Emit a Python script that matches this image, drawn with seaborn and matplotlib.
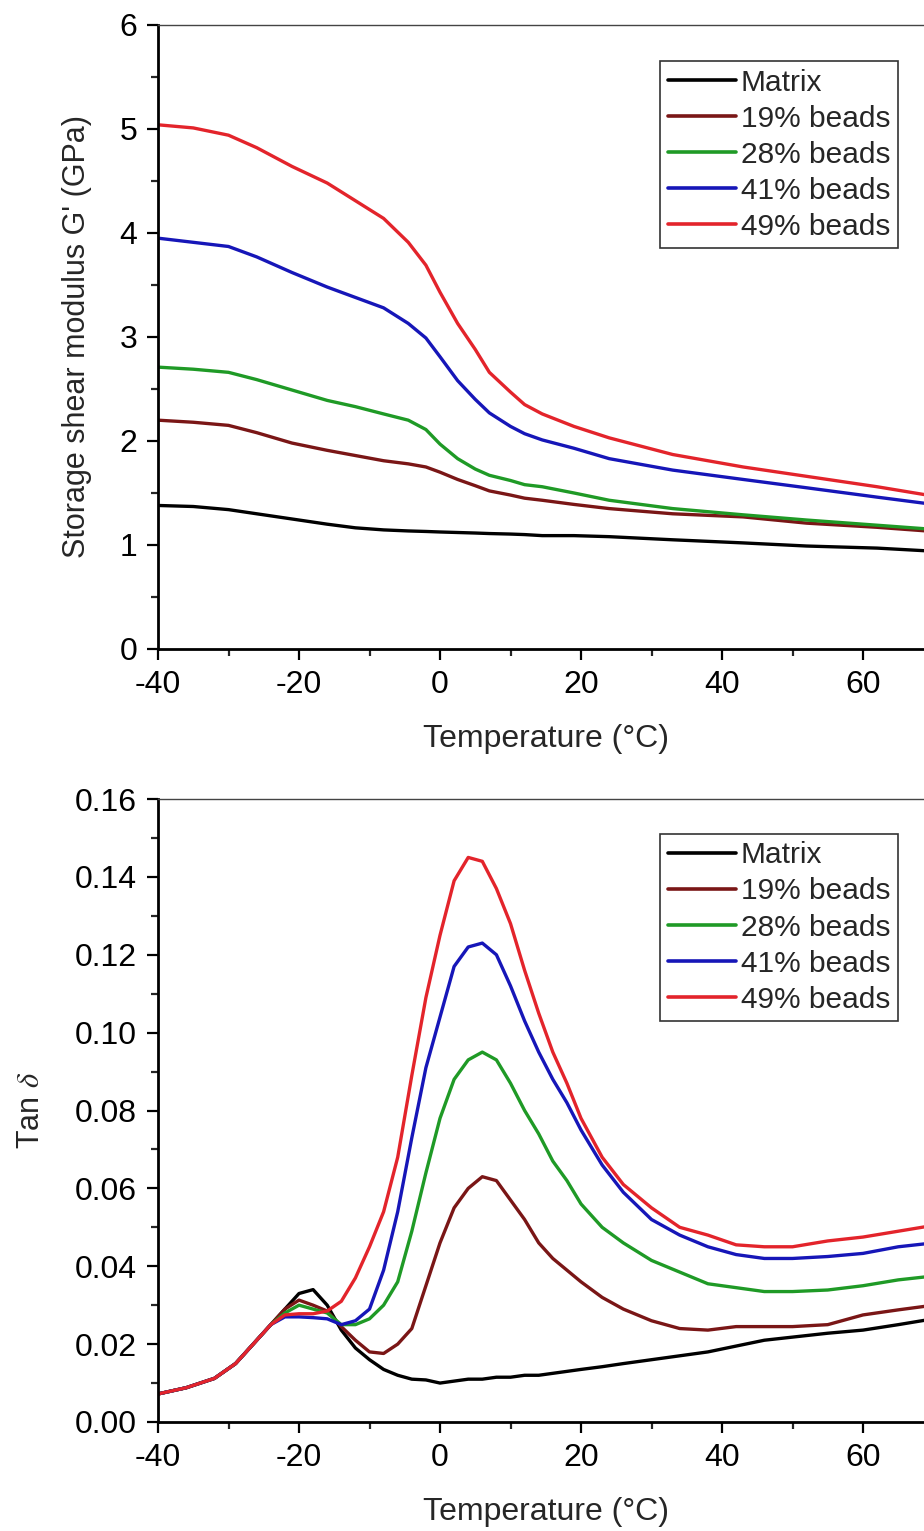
import matplotlib
matplotlib.use("Agg")
import matplotlib.pyplot as plt
from matplotlib.ticker import MultipleLocator, FormatStrFormatter
import seaborn as sns
import pandas as pd

sns.set_style("white")
plt.rcParams['font.family'] = ['Liberation Sans', 'DejaVu Sans']
plt.rcParams['mathtext.fontset'] = 'stix'
plt.rcParams['axes.unicode_minus'] = False

SERIES = ["Matrix", "19% beads", "28% beads", "41% beads", "49% beads"]
COLORS = ["#000000", "#7a1616", "#1f9a26", "#1616b8", "#e3242b"]

# storage shear modulus G' (GPa) vs temperature
T_MOD = [-40, -35, -30, -26, -21, -16, -12, -8, -4.5, -2, 0, 2.5, 5, 7, 10, 12, 14.5, 19, 24, 33, 43, 52, 62, 70]
G_MATRIX = [1.38, 1.37, 1.34, 1.30, 1.25, 1.20, 1.165, 1.145, 1.135, 1.13, 1.125, 1.12, 1.115, 1.11, 1.105, 1.10,
            1.09, 1.09, 1.08, 1.05, 1.02, 0.99, 0.97, 0.94]
G_19 = [2.20, 2.18, 2.15, 2.08, 1.98, 1.91, 1.86, 1.81, 1.78, 1.75, 1.70, 1.63, 1.57, 1.52, 1.48, 1.45,
        1.43, 1.39, 1.35, 1.30, 1.27, 1.21, 1.17, 1.13]
G_28 = [2.71, 2.69, 2.66, 2.59, 2.49, 2.39, 2.33, 2.26, 2.20, 2.11, 1.97, 1.83, 1.73, 1.67, 1.62, 1.58,
        1.56, 1.50, 1.43, 1.35, 1.29, 1.24, 1.19, 1.15]
G_41 = [3.95, 3.91, 3.87, 3.77, 3.62, 3.48, 3.38, 3.28, 3.13, 2.99, 2.81, 2.58, 2.40, 2.27, 2.14, 2.07,
        2.01, 1.93, 1.83, 1.72, 1.63, 1.55, 1.46, 1.39]
G_49 = [5.04, 5.01, 4.94, 4.82, 4.64, 4.48, 4.31, 4.14, 3.91, 3.69, 3.43, 3.13, 2.88, 2.66, 2.47, 2.35,
        2.26, 2.14, 2.03, 1.87, 1.75, 1.66, 1.56, 1.47]

# tan delta vs temperature
T_TAN = [-40, -36, -32, -29, -26, -24, -22, -20, -18, -16, -14, -12, -10, -8, -6, -4, -2, 0, 2, 4,
         6, 8, 10, 12, 14, 16, 18, 20, 23, 26, 30, 34, 38, 42, 46, 50, 55, 60, 65, 70]
TAN_MATRIX = [0.0072, 0.0088, 0.0112, 0.015, 0.021, 0.025, 0.029, 0.033, 0.034, 0.030,
              0.0236, 0.019, 0.016, 0.0135, 0.012, 0.011, 0.0108, 0.0100, 0.0105, 0.011,
              0.011, 0.0115, 0.0115, 0.012, 0.012, 0.0125, 0.013, 0.0135, 0.0142, 0.015,
              0.016, 0.017, 0.018, 0.0195, 0.021, 0.0218, 0.0228, 0.0236, 0.025, 0.0265]
TAN_19 = [0.0072, 0.0088, 0.0112, 0.015, 0.021, 0.025, 0.029, 0.0313, 0.030, 0.0285,
          0.0245, 0.021, 0.018, 0.0176, 0.020, 0.024, 0.035, 0.046, 0.055, 0.060,
          0.063, 0.062, 0.057, 0.052, 0.046, 0.042, 0.039, 0.036, 0.032, 0.029,
          0.026, 0.024, 0.0236, 0.0245, 0.0245, 0.0245, 0.025, 0.0275, 0.0288, 0.030]
TAN_28 = [0.0072, 0.0088, 0.0112, 0.015, 0.021, 0.025, 0.028, 0.030, 0.029, 0.028,
          0.025, 0.025, 0.0265, 0.030, 0.036, 0.049, 0.064, 0.078, 0.088, 0.093,
          0.095, 0.093, 0.087, 0.080, 0.074, 0.067, 0.062, 0.056, 0.050, 0.046,
          0.0415, 0.0385, 0.0355, 0.0345, 0.0335, 0.0335, 0.0339, 0.035, 0.0365, 0.0375]
TAN_41 = [0.0072, 0.0088, 0.0112, 0.015, 0.021, 0.025, 0.027, 0.027, 0.0268, 0.0265,
          0.025, 0.026, 0.029, 0.039, 0.054, 0.073, 0.091, 0.104, 0.117, 0.122,
          0.123, 0.120, 0.112, 0.103, 0.095, 0.088, 0.082, 0.075, 0.066, 0.059,
          0.052, 0.048, 0.045, 0.043, 0.042, 0.042, 0.0425, 0.0433, 0.045, 0.046]
TAN_49 = [0.0072, 0.0088, 0.0112, 0.015, 0.021, 0.025, 0.0275, 0.0278, 0.0278, 0.0285,
          0.031, 0.037, 0.045, 0.054, 0.068, 0.089, 0.109, 0.125, 0.139, 0.145,
          0.144, 0.137, 0.128, 0.116, 0.105, 0.095, 0.087, 0.078, 0.068, 0.061,
          0.055, 0.050, 0.048, 0.0455, 0.045, 0.045, 0.0465, 0.0475, 0.049, 0.0505]


def long_form(temps, columns, value):
    frames = [pd.DataFrame({"T": temps, value: vals, "sample": name}) for name, vals in zip(SERIES, columns)]
    return pd.concat(frames, ignore_index=True)


mod = long_form(T_MOD, [G_MATRIX, G_19, G_28, G_41, G_49], "G")
tan = long_form(T_TAN, [TAN_MATRIX, TAN_19, TAN_28, TAN_41, TAN_49], "tan")
palette = dict(zip(SERIES, COLORS))

fig = plt.figure(figsize=(9.24, 15.31), dpi=100)
# right spine (T = 70) sits just outside the picture, as in the original
ax1 = fig.add_axes([0.171, 0.5761, 0.8393, 0.4076])
ax2 = fig.add_axes([0.171, 0.0712, 0.8393, 0.4069])

sns.lineplot(data=mod, x="T", y="G", hue="sample", hue_order=SERIES, palette=palette,
             estimator=None, linewidth=2.4, ax=ax1)
sns.lineplot(data=tan, x="T", y="tan", hue="sample", hue_order=SERIES, palette=palette,
             estimator=None, linewidth=2.4, ax=ax2)


def style(ax, legend_y):
    ax.set_xlim(-40, 70)
    ax.xaxis.set_major_locator(MultipleLocator(20))
    ax.xaxis.set_minor_locator(MultipleLocator(10))
    for side in ["left", "bottom"]:
        ax.spines[side].set_linewidth(2)
        ax.spines[side].set_color("black")
    for side in ["top", "right"]:
        ax.spines[side].set_linewidth(1)
        ax.spines[side].set_color("#444444")
    ax.tick_params(which="major", direction="out", length=8, width=1.6, labelsize=23, pad=7,
                   top=False, right=False, bottom=True, left=True, colors="black")
    ax.tick_params(which="minor", direction="out", length=5, width=1.6,
                   top=False, right=False, bottom=True, left=True)
    ax.set_xlabel("Temperature (°C)", fontsize=23)
    ax.xaxis.set_label_coords(0.5, -0.121)
    sns.move_legend(ax, loc="upper right", bbox_to_anchor=(0.954, legend_y), title=None,
                    frameon=True, fontsize=21.5, handlelength=2.3, handletextpad=0.15,
                    labelspacing=0.27, borderpad=0.25, borderaxespad=0, fancybox=False,
                    edgecolor="#333333", framealpha=1)
    leg = ax.get_legend()
    leg.get_frame().set_linewidth(1.2)
    for line in leg.get_lines():
        line.set_linewidth(2.6)


style(ax1, 0.942)
ax1.set_ylim(0, 6)
ax1.yaxis.set_major_locator(MultipleLocator(1))
ax1.yaxis.set_minor_locator(MultipleLocator(0.5))
ax1.set_ylabel("Storage shear modulus G' (GPa)", fontsize=22)
ax1.yaxis.set_label_coords(-0.085, 0.5)

style(ax2, 0.944)
ax2.set_ylim(0, 0.16)
ax2.yaxis.set_major_locator(MultipleLocator(0.02))
ax2.yaxis.set_minor_locator(MultipleLocator(0.01))
ax2.yaxis.set_major_formatter(FormatStrFormatter("%.2f"))
ax2.set_ylabel("Tan $\\delta$", fontsize=22)
ax2.yaxis.set_label_coords(-0.145, 0.5)

fig.savefig("out.png", dpi=100)
